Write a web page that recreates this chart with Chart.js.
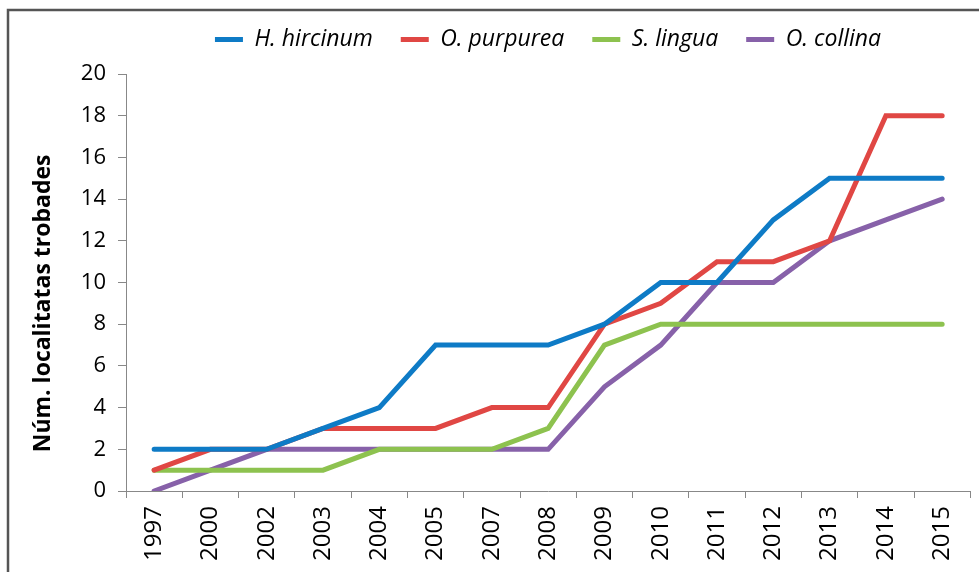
<!DOCTYPE html>
<html>
<head>
    <title>Localitats trobades</title>
    <script src="https://cdn.jsdelivr.net/npm/chart.js"></script>
    <style>
        html, body { margin: 0; padding: 0; background: #fff; }
        #chart-container { position: relative; width: 979px; height: 572px; }
    </style>
</head>
<body>
    <div id="chart-container">
        <canvas id="myChart"></canvas>
    </div>

    <script>
        // Dades
        const anys = ['1997', '2000', '2002', '2003', '2004', '2005', '2007', '2008', '2009', '2010', '2011', '2012', '2013', '2014', '2015'];
        const hHircinum = [2, 2, 2, 3, 4, 7, 7, 7, 8, 10, 10, 13, 15, 15, 15];
        const oPurpurea = [1, 2, 2, 3, 3, 3, 4, 4, 8, 9, 11, 11, 12, 18, 18];
        const sLingua   = [1, 1, 1, 1, 2, 2, 2, 3, 7, 8, 8, 8, 8, 8, 8];
        const oCollina  = [0, 1, 2, 2, 2, 2, 2, 2, 5, 7, 10, 10, 12, 13, 14];

        const FONT = "'Open Sans', 'DejaVu Sans', sans-serif";
        const EXTRA_LLEGENDA = 13;   // espai sota la llegenda
        const DESPL_LLEGENDA = 54;   // llegenda desplaçada cap a la dreta

        function serie(label, data, color) {
            return {
                label: label,
                data: data,
                borderColor: color,
                backgroundColor: color,
                borderWidth: 5,
                pointRadius: 0,
                tension: 0,
                borderCapStyle: 'round'
            };
        }

        // Marc exterior + ajustos de la llegenda
        const marc = {
            id: 'marc',
            afterInit(chart) {
                const legend = chart.legend;
                if (legend) {
                    const fitOrig = legend.fit.bind(legend);
                    legend.fit = function () {
                        fitOrig();
                        this.height += EXTRA_LLEGENDA;
                    };
                    const drawOrig = legend.draw.bind(legend);
                    legend.draw = function () {
                        const l = this.left, r = this.right;
                        this.left += DESPL_LLEGENDA;
                        this.right += DESPL_LLEGENDA;
                        drawOrig();
                        this.left = l;
                        this.right = r;
                    };
                }
            },
            afterDraw(chart) {
                const ctx = chart.ctx;
                ctx.save();
                ctx.strokeStyle = '#555';
                ctx.lineWidth = 2.5;
                ctx.beginPath();
                ctx.moveTo(8, 572);
                ctx.lineTo(8, 10);
                ctx.lineTo(979, 10);
                ctx.stroke();
                ctx.restore();
            }
        };

        const ctx = document.getElementById('myChart').getContext('2d');
        new Chart(ctx, {
            type: 'line',
            data: {
                labels: anys,
                datasets: [
                    serie('H. hircinum', hHircinum, '#0e7bc6'),
                    serie('O. purpurea', oPurpurea, '#e04744'),
                    serie('S. lingua', sLingua, '#8dc24f'),
                    serie('O. collina', oCollina, '#8761a9')
                ]
            },
            options: {
                responsive: true,
                maintainAspectRatio: false,
                animation: false,
                layout: { padding: { left: 10, top: 0, right: 1, bottom: 0 } },
                plugins: {
                    legend: {
                        position: 'top',
                        labels: {
                            usePointStyle: true,
                            pointStyle: 'line',
                            pointStyleWidth: 28,
                            color: '#000',
                            padding: 28,
                            font: { family: FONT, size: 23, style: 'italic' }
                        }
                    },
                    tooltip: { enabled: false }
                },
                scales: {
                    x: {
                        offset: true,
                        grid: { offset: true, drawOnChartArea: false, tickLength: 7, color: '#888' },
                        border: { color: '#888' },
                        ticks: {
                            color: '#000',
                            minRotation: 90,
                            maxRotation: 90,
                            padding: 8,
                            font: { family: FONT, size: 24 }
                        },
                        afterFit(scale) { scale.height = 81; }
                    },
                    y: {
                        min: 0,
                        max: 20,
                        grid: { drawOnChartArea: false, tickLength: 8, color: '#888' },
                        border: { color: '#888' },
                        ticks: {
                            stepSize: 2,
                            color: '#000',
                            padding: 12,
                            font: { family: FONT, size: 22 }
                        },
                        title: {
                            display: true,
                            text: 'Núm. localitatas trobades\u00a0\u00a0\u00a0\u00a0\u00a0\u00a0\u00a0',
                            color: '#000',
                            padding: { top: 20, bottom: 0 },
                            font: { family: FONT, size: 23, weight: 'bold' }
                        },
                        afterFit(scale) { scale.width = 116; }
                    }
                }
            },
            plugins: [marc]
        });
    </script>
</body>
</html>
